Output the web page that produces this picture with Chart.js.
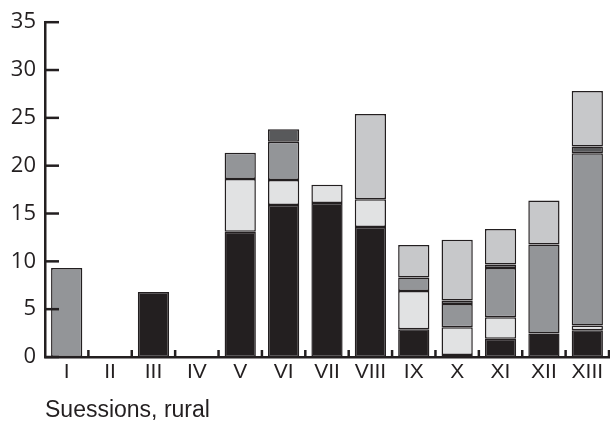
<!DOCTYPE html>
<html>
<head>
<meta charset="utf-8">
<script src="https://cdn.jsdelivr.net/npm/chart.js@4"></script>
<style>
  html, body { margin: 0; padding: 0; background: #fff; }
  #wrap { width: 610px; height: 425px; }
</style>
</head>
<body>
<div id="wrap"><canvas id="chart" width="610" height="425"></canvas></div>
<script>
// categories and stacked segment values (bottom -> top)
const sites = ['I', 'II', 'III', 'IV', 'V', 'VI', 'VII', 'VIII', 'IX', 'X', 'XI', 'XII', 'XIII'];
const blackVals    = [null, null, 6.8, null, 13.1, 15.9, 16.1, 13.6, 2.9, 0.2, 1.9, 2.45, 2.8];
const lightVals    = [null, null, null, null, 5.5, 2.6, 1.9, 2.9, 4.0, 2.9, 2.25, null, 0.5];
const mediumVals   = [9.3, null, null, null, 2.75, 4.0, null, null, 1.4, 2.45, 5.15, 9.3, 18.0];
const darkVals     = [null, null, null, null, null, 1.3, null, null, null, 0.35, 0.37, null, 0.7];
const paleVals     = [null, null, null, null, null, null, null, 8.9, 3.4, 6.35, 3.7, 4.6, 5.8];
const yTicks = [0, 5, 10, 15, 20, 25, 30, 35];

const ink = '#231f20';

function seg(data, color) {
  return {
    data: data,
    backgroundColor: color,
    borderColor: ink,
    borderWidth: 1.5,
    borderSkipped: false,
    barPercentage: 0.72,
    categoryPercentage: 1
  };
}

// little inward tick marks like the original figure
const innerTicks = {
  id: 'innerTicks',
  afterDraw(chart) {
    const ctx = chart.ctx;
    const x = chart.scales.x, y = chart.scales.y;
    ctx.save();
    ctx.strokeStyle = ink;
    ctx.lineWidth = 2.5;
    yTicks.forEach(v => {
      const py = y.getPixelForValue(v);
      ctx.beginPath();
      ctx.moveTo(x.left, py);
      ctx.lineTo(x.left + 14, py);
      ctx.stroke();
    });
    const step = (x.right - x.left) / sites.length;
    for (let i = 1; i <= sites.length; i++) {
      const px = x.left + i * step;
      ctx.beginPath();
      ctx.moveTo(px, y.bottom);
      ctx.lineTo(px, y.bottom - 7);
      ctx.stroke();
    }
    ctx.restore();
  }
};

new Chart(document.getElementById('chart'), {
  type: 'bar',
  data: {
    labels: sites,
    datasets: [
      seg(blackVals, ink),
      seg(lightVals, '#e1e2e3'),
      seg(mediumVals, '#939598'),
      seg(darkVals, '#58595b'),
      seg(paleVals, '#c7c8ca')
    ]
  },
  options: {
    responsive: false,
    animation: false,
    layout: { padding: { top: 19, right: 1, left: 0, bottom: 0 } },
    plugins: { legend: { display: false }, tooltip: { enabled: false } },
    scales: {
      x: {
        stacked: true,
        grid: { display: false, drawTicks: false },
        border: { display: true, color: ink, width: 2.5 },
        ticks: {
          color: ink,
          padding: 3,
          font: { family: '"Liberation Sans Narrow", "Liberation Sans", sans-serif', size: 21 }
        },
        title: {
          display: true,
          text: 'Suessions, rural',
          align: 'start',
          color: ink,
          padding: { top: 6, bottom: 1 },
          font: { family: '"Liberation Sans", sans-serif', size: 23 }
        },
        afterFit(scale) { scale.height = 68; }
      },
      y: {
        stacked: true,
        min: 0,
        max: 35,
        grid: { display: false, drawTicks: false },
        border: { display: true, color: ink, width: 2.5 },
        ticks: {
          stepSize: 5,
          color: ink,
          padding: 9,
          font: { family: '"Open Sans", sans-serif', size: 22 }
        },
        afterFit(scale) { scale.width = 45; }
      }
    }
  },
  plugins: [innerTicks]
});
</script>
</body>
</html>
